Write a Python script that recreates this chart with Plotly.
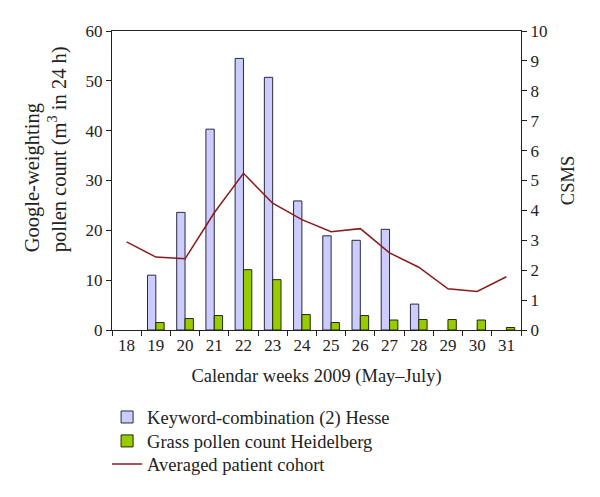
import plotly.graph_objects as go

weeks = ["18", "19", "20", "21", "22", "23", "24", "25", "26", "27", "28", "29", "30", "31"]
keyword_hesse = [None, 11.0, 23.6, 40.3, 54.5, 50.7, 25.9, 18.9, 18.0, 20.2, 5.2, None, None, None]
grass_pollen = [None, 1.5, 2.3, 2.9, 12.1, 10.1, 3.1, 1.5, 2.9, 2.0, 2.1, 2.1, 2.0, 0.5]
patient_cohort = [2.95, 2.44, 2.38, 3.92, 5.24, 4.24, 3.69, 3.29, 3.39, 2.58, 2.1, 1.38, 1.29, 1.78]

FONT = "Liberation Serif"
fig = go.Figure()
fig.add_trace(go.Bar(x=weeks, y=keyword_hesse, name="Keyword-combination (2) Hesse", legend="legend",
                     marker=dict(color="#ccccff", line=dict(color="#2a2a3a", width=1))))
fig.add_trace(go.Bar(x=weeks, y=grass_pollen, name="Grass pollen count Heidelberg", legend="legend2",
                     marker=dict(color="#99cc00", line=dict(color="#1e2a00", width=1))))
fig.add_trace(go.Scatter(x=weeks, y=patient_cohort, name="Averaged patient cohort", yaxis="y2",
                         legend="legend3",
                         mode="lines", line=dict(color="#8b1a1a", width=1.5)))

def leg(y):
    return dict(x=-0.012, y=y, xanchor="left", yanchor="top", bgcolor="rgba(0,0,0,0)",
                font=dict(family=FONT, size=18.5), itemwidth=30)

fig.update_layout(
    width=600, height=497,
    paper_bgcolor="white", plot_bgcolor="white",
    margin=dict(l=104, r=87, t=23, b=175, autoexpand=False),
    font=dict(family=FONT, size=17, color="#222"),
    barmode="group", bargap=0.43, bargroupgap=0,
    showlegend=True,
    legend=leg(-0.229),
    legend2=leg(-0.309),
    legend3=leg(-0.386),
    xaxis=dict(type="category", tickson="boundaries", ticks="outside", ticklen=5,
               showline=True, linecolor="#222", linewidth=1, tickcolor="#222",
               showgrid=False, mirror=True, automargin=False,
               title=dict(text="Calendar weeks 2009 (May–July)", standoff=14,
                          font=dict(size=18.5))),
    yaxis=dict(range=[0, 60], dtick=10, ticks="outside", ticklen=5, showline=True,
               linecolor="#222", tickcolor="#222", showgrid=False, zeroline=False, automargin=False),
    yaxis2=dict(range=[0, 10], dtick=1, overlaying="y", side="right", ticks="outside", ticklen=5,
                showline=True, linecolor="#222", tickcolor="#222", showgrid=False, zeroline=False,
                automargin=False, title=dict(text="CSMS", standoff=14, font=dict(size=18.5))),
    annotations=[dict(text="Google-weighting<br>pollen count (m<sup>3</sup> in 24 h)",
                      xref="paper", yref="paper", x=-0.161, y=0.605, xanchor="center",
                      yanchor="middle", textangle=-90, align="left", showarrow=False,
                      font=dict(family=FONT, size=20.5))],
)

fig.write_html("out.html")
